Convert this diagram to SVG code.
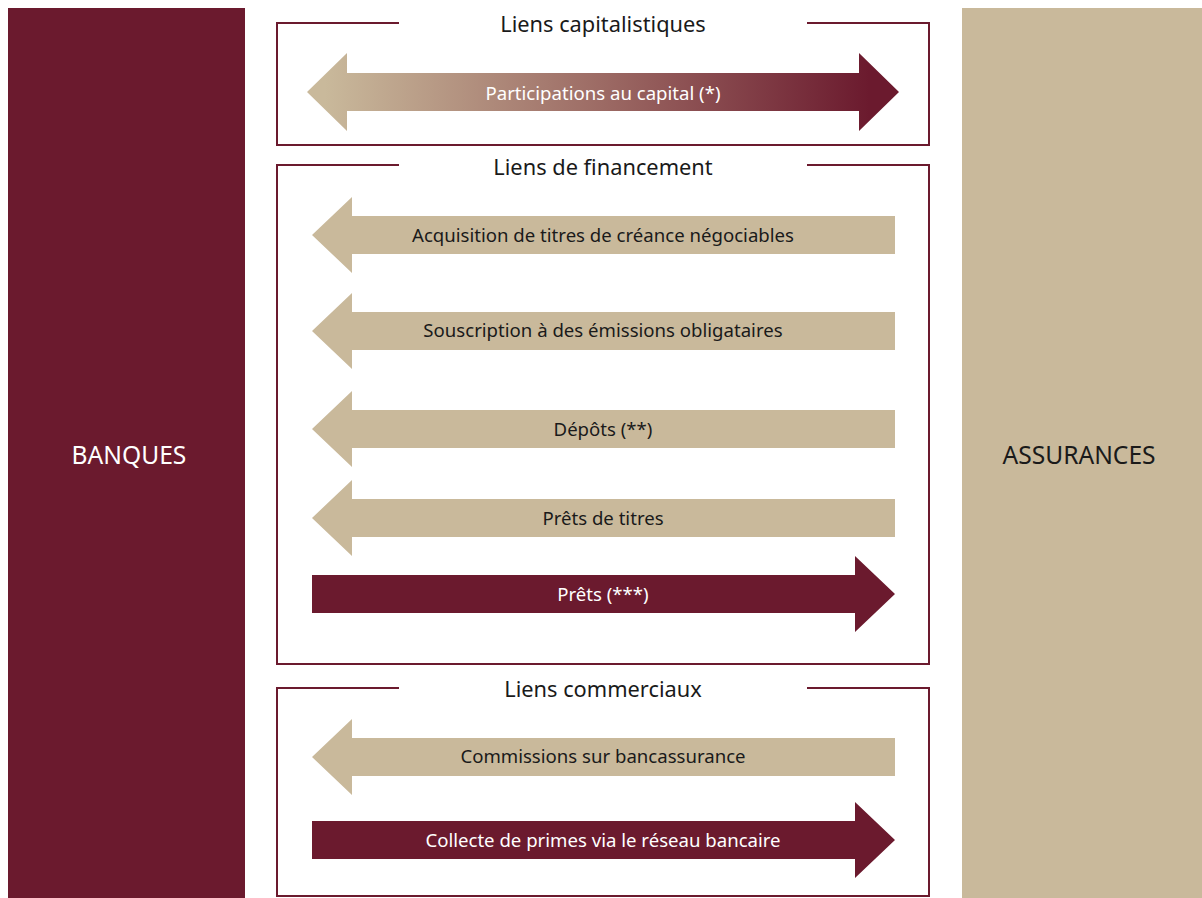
<svg xmlns="http://www.w3.org/2000/svg" width="1202" height="898" viewBox="0 0 1202 898">
<style>
.maroon{fill:#6B1A2E}
.beige{fill:#C9B99B}
.frame{fill:none;stroke:#6B1A2E;stroke-width:2}
.title{font-family:"Noto Sans","Open Sans",sans-serif;font-size:21.8px;fill:#1a1a1a;text-anchor:middle}
.lbl{font-family:"Noto Sans","Open Sans",sans-serif;font-size:18.6px;text-anchor:middle}
.dark{fill:#1a1a1a}
.light{fill:#ffffff}
.side{font-family:"Noto Sans","Open Sans",sans-serif;font-size:24.6px;text-anchor:middle}
</style>
<defs>
<linearGradient id="grad" x1="307" y1="0" x2="899" y2="0" gradientUnits="userSpaceOnUse">
<stop offset="0.03" stop-color="#C9B99B"/>
<stop offset="0.5" stop-color="#9C6A64"/>
<stop offset="0.95" stop-color="#6B1A2E"/>
</linearGradient>
</defs>
<rect width="1202" height="898" fill="#ffffff"/>
<g id="banques">
<rect class="maroon" x="8" y="8" width="237" height="890"/>
<text class="side light" x="129" y="464">BANQUES</text>
</g>
<g id="assurances">
<rect class="beige" x="962" y="8" width="240" height="890"/>
<text class="side dark" x="1079" y="464">ASSURANCES</text>
</g>
<g id="box-capitalistiques">
<path class="frame" d="M399,23 H277 V145 H929 V23 H807"/>
<text class="title" x="603" y="32">Liens capitalistiques</text>
</g>
<g id="box-financement">
<path class="frame" d="M399,165 H277 V664 H929 V165 H807"/>
<text class="title" x="603" y="175">Liens de financement</text>
</g>
<g id="box-commerciaux">
<path class="frame" d="M399,688 H277 V896 H929 V688 H807"/>
<text class="title" x="603" y="697">Liens commerciaux</text>
</g>
<g id="connectors">
<g id="participations">
<path fill="url(#grad)" d="M307,92 L347,53 V73 H859 V53 L899,92 L859,131 V111 H347 V131 Z"/>
<text class="lbl light" x="603" y="100">Participations au capital (*)</text>
</g>
<g id="acquisition">
<path class="beige" d="M312,235 L352,197 V216 H895 V254 H352 V273 Z"/>
<text class="lbl dark" x="603" y="242">Acquisition de titres de créance négociables</text>
</g>
<g id="souscription">
<path class="beige" d="M312,331 L352,293 V312 H895 V350 H352 V369 Z"/>
<text class="lbl dark" x="603" y="337">Souscription à des émissions obligataires</text>
</g>
<g id="depots">
<path class="beige" d="M312,429 L352,391 V410 H895 V448 H352 V467 Z"/>
<text class="lbl dark" x="603" y="436">Dépôts (**)</text>
</g>
<g id="prets-titres">
<path class="beige" d="M312,518 L352,480 V499 H895 V537 H352 V556 Z"/>
<text class="lbl dark" x="603" y="525">Prêts de titres</text>
</g>
<g id="prets">
<path class="maroon" d="M312,575 H855 V556 L895,594 L855,632 V613 H312 Z"/>
<text class="lbl light" x="603" y="601">Prêts (***)</text>
</g>
<g id="commissions">
<path class="beige" d="M312,757 L352,719 V738 H895 V776 H352 V795 Z"/>
<text class="lbl dark" x="603" y="763">Commissions sur bancassurance</text>
</g>
<g id="collecte">
<path class="maroon" d="M312,821 H855 V802 L895,840 L855,878 V859 H312 Z"/>
<text class="lbl light" x="603" y="847">Collecte de primes via le réseau bancaire</text>
</g>
</g>
</svg>
